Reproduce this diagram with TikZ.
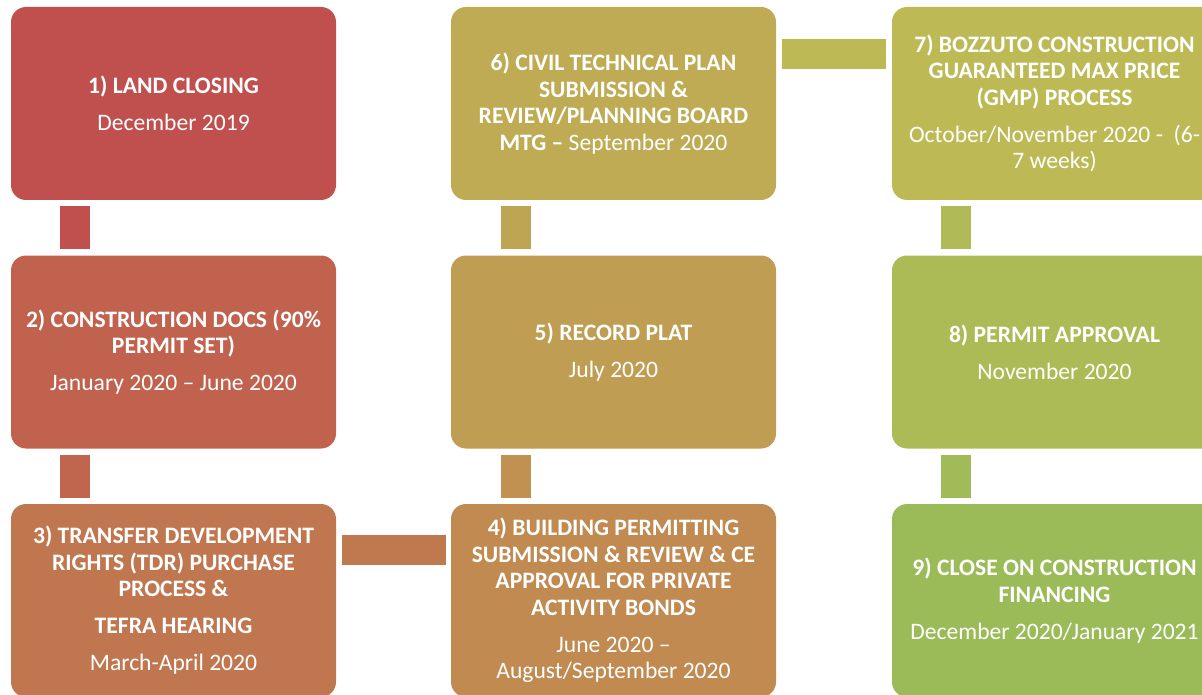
\documentclass[tikz,border=0pt]{standalone}
\usepackage{fontspec}
\setmainfont{Carlito}
\usetikzlibrary{calc}
\definecolor{cA}{HTML}{C0504D}
\definecolor{cB}{HTML}{C0624E}
\definecolor{cC}{HTML}{C0774F}
\definecolor{cD}{HTML}{C08A51}
\definecolor{cE}{HTML}{BF9D52}
\definecolor{cF}{HTML}{BEAB54}
\definecolor{cG}{HTML}{BDBA56}
\definecolor{cH}{HTML}{ADBB57}
\definecolor{cI}{HTML}{9BBB59}
\definecolor{kA}{HTML}{C0504D}
\definecolor{kB}{HTML}{C0654E}
\definecolor{kC}{HTML}{C0794F}
\definecolor{kD}{HTML}{C09150}
\definecolor{kE}{HTML}{BEA553}
\definecolor{kF}{HTML}{BDB955}
\definecolor{kG}{HTML}{B0BA57}
\definecolor{kH}{HTML}{A0BB58}
\tikzset{
  stepbox/.style={rectangle, rounded corners=15pt, minimum width=325pt, minimum height=193pt,
    inner sep=0pt, text=white, align=center, font=\fontsize{23.6}{26.5}\selectfont},
  bar/.style={line width=30pt, line cap=butt}
}
\begin{document}
\begin{tikzpicture}[x=1pt,y=-1pt]
\useasboundingbox (0,0) rectangle (1202,695);
\clip (0,0) rectangle (1202,695);
\node[stepbox, fill=cA] (b1) at (173.5,103.5) {\textbf{1) LAND CLOSING}\\[10.5pt]December 2019};
\node[stepbox, fill=cB] (b2) at (173.5,352) {\textbf{2) CONSTRUCTION DOCS (90\%}\\\textbf{PERMIT SET)}\\[10.5pt]January 2020 – June 2020};
\node[stepbox, fill=cC] (b3) at (173.5,600.5) {\textbf{3) TRANSFER DEVELOPMENT}\\\textbf{RIGHTS (TDR) PURCHASE}\\\textbf{PROCESS \&}\\[10.5pt]\textbf{TEFRA HEARING}\\[10.5pt]March-April 2020};
\node[stepbox, fill=cD] (b4) at (613.5,600.5) {\textbf{4) BUILDING PERMITTING}\\\textbf{SUBMISSION \& REVIEW \& CE}\\\textbf{APPROVAL FOR PRIVATE}\\\textbf{ACTIVITY BONDS}\\[10.5pt]June 2020 –\\August/September 2020};
\node[stepbox, fill=cE] (b5) at (613.5,352) {\textbf{5) RECORD PLAT}\\[10.5pt]July 2020};
\node[stepbox, fill=cF] (b6) at (613.5,103.5) {\textbf{6) CIVIL TECHNICAL PLAN}\\\textbf{SUBMISSION \&}\\\textbf{REVIEW/PLANNING BOARD}\\\textbf{MTG –} September 2020};
\node[stepbox, fill=cG] (b7) at (1054.5,103.5) {\textbf{7) BOZZUTO CONSTRUCTION}\\\textbf{GUARANTEED MAX PRICE}\\\textbf{(GMP) PROCESS}\\[10.5pt]October/November 2020 -\ \ (6-\\7 weeks)};
\node[stepbox, fill=cH] (b8) at (1054.5,352) {\textbf{8) PERMIT APPROVAL}\\[10.5pt]November 2020};
\node[stepbox, fill=cI] (b9) at (1054.5,600.5) {\textbf{9) CLOSE ON CONSTRUCTION}\\\textbf{FINANCING}\\[10.5pt]December 2020/January 2021};
% connectors
\draw[bar, kA] ($(b1.south west)+(64,6)$) -- ($(b2.north west)+(64,-6)$);
\draw[bar, kB] ($(b2.south west)+(64,6)$) -- ($(b3.north west)+(64,-6)$);
\draw[bar, kC] ($(b3.north east)+(6,46)$) -- ($(b4.north west)+(-5,46)$);
\draw[bar, kD] ($(b4.north west)+(65,-6)$) -- ($(b5.south west)+(65,6)$);
\draw[bar, kE] ($(b5.north west)+(65,-6)$) -- ($(b6.south west)+(65,6)$);
\draw[bar, kF] ($(b6.north east)+(6,47)$) -- ($(b7.north west)+(-6,47)$);
\draw[bar, kG] ($(b7.south west)+(64,6)$) -- ($(b8.north west)+(64,-6)$);
\draw[bar, kH] ($(b8.south west)+(64,6)$) -- ($(b9.north west)+(64,-6)$);
\end{tikzpicture}
\end{document}
